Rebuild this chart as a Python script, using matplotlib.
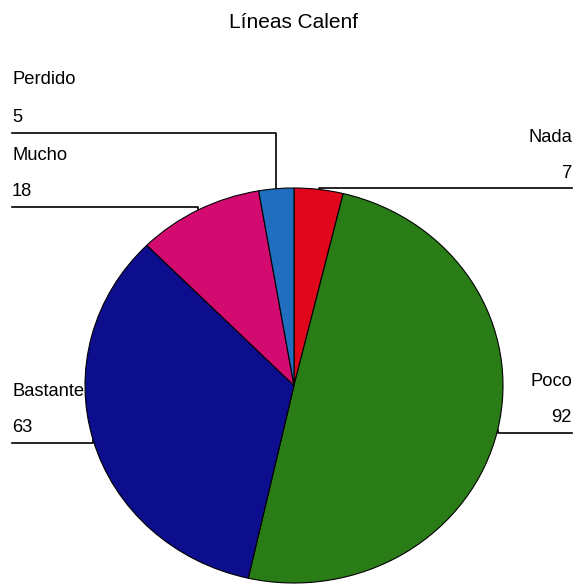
import matplotlib
matplotlib.use("Agg")
import matplotlib.pyplot as plt
import numpy as np

plt.rcParams['font.family'] = ['Liberation Sans', 'DejaVu Sans']

title = 'Líneas Calenf'
categories = ['Nada', 'Poco', 'Bastante', 'Mucho', 'Perdido']
values = [7, 92, 63, 18, 5]
colors = ['#e0061c', '#2a7d16', '#0c0e8e', '#d30a70', '#1f6ec0']

W, H = 576, 587
fig = plt.figure(figsize=(W / 100, H / 100), dpi=100)

# pie axes (slightly squashed vertically like the scan)
ax = fig.add_axes([85 / W, 4 / H, 418 / W, 395 / H])
wedges, _ = ax.pie(values, colors=colors, startangle=90, counterclock=False,
                   radius=1, wedgeprops=dict(edgecolor='black', linewidth=0.8))
ax.set_aspect('auto')
ax.set_xlim(-1, 1)
ax.set_ylim(-1, 1)
ax.axis('off')

# overlay in pixel coords for labels and leader lines
ov = fig.add_axes([0, 0, 1, 1], zorder=-1)
ov.set_xlim(0, W)
ov.set_ylim(H, 0)
ov.axis('off')

# label layout: (text x, ha, name y, value y, line y)
layout = {
    'Nada': (572, 'right', 137, 173, 188),
    'Poco': (572, 'right', 382, 418, 433),
    'Bastante': (12, 'left', 392, 428, 443),
    'Mucho': (12, 'left', 155, 192, 207),
    'Perdido': (12, 'left', 80, 118, 133),
}

fig.canvas.draw()
to_ov = ov.transData.inverted()
for w, name, val in zip(wedges, categories, values):
    tx, ha, ny, vy, ly = layout[name]
    mid = np.deg2rad((w.theta1 + w.theta2) / 2)
    disp = ax.transData.transform((np.cos(mid), np.sin(mid)))
    mx, my = to_ov.transform(disp)
    ov.text(tx, ny, name, ha=ha, va='center', fontsize=13.2)
    ov.text(tx, vy, str(val), ha=ha, va='center', fontsize=13.2)
    ov.plot([tx, mx, mx], [ly, ly, my], color='black', lw=1.2)

fig.text(293.5 / W, 1 - 22 / H, title, ha='center', va='center', fontsize=15)

fig.savefig('out.png', dpi=100)
